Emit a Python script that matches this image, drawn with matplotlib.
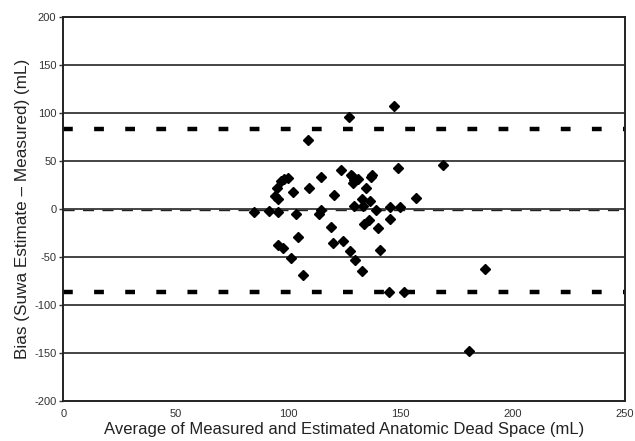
import numpy as np
import matplotlib
matplotlib.use("Agg")
import matplotlib.pyplot as plt

plt.rcParams['font.family'] = ['Liberation Sans', 'DejaVu Sans']
plt.rcParams['axes.unicode_minus'] = False

# Bland-Altman style data
avg_ml = [84.7, 91.7, 95.7, 103.5, 113.8, 114.8, 94.2, 95.7, 95.0, 96.8,
          98.3, 99.8, 102.4, 109.4, 114.8, 120.7, 123.7, 128.5, 129.3, 119.2,
          104.6, 95.4, 97.9, 101.2, 106.7, 120.1, 124.6, 127.4, 130.0,
          128.1, 129.3, 131.0, 128.9, 137.4, 136.8, 148.8, 168.8, 134.9, 133.0,
          136.6, 133.4, 139.3, 145.2, 150.0, 157.0, 134.0, 136.2, 139.9, 145.2,
          140.8, 133.0, 144.8, 151.7, 187.8, 180.4, 109.0, 127.0, 147.0]
bias_ml = [-3, -2, -3, -5, -5, -1, 13, 10, 22, 29,
           31, 32, 18, 22, 33, 14, 40, 34, 3, -19,
           -29, -38, -41, -51, -69, -36, -33, -44, -53,
           35, 30, 31, 27, 35, 33, 43, 46, 22, 10,
           8, 2.5, -1, 2, 2, 11, -16, -12, -20, -11,
           -43, -65, -87, -87, -63, -148, 72, 96, 107]

mean_bias = -1.5
upper_loa = 83.5
lower_loa = -87
grid_vals = [-150, -100, -50, 0, 50, 100, 150]

fig = plt.figure(figsize=(6.35, 4.41), dpi=100)
ax = fig.add_axes([0.0997, 0.091, 0.8845, 0.871])

for g in grid_vals:
    ax.axhline(g, color='#444444', lw=1.4, zorder=1)
ax.axhline(mean_bias, color='#222222', lw=1.0, ls=(0, (8, 6)), zorder=2)
ax.axhline(upper_loa, color='black', lw=3.2, ls=(0, (2.2, 4.8)), zorder=2)
ax.axhline(lower_loa, color='black', lw=3.2, ls=(0, (2.2, 4.8)), zorder=2)

ax.plot(avg_ml, bias_ml, ls='none', marker='D', ms=5.5, color='black', zorder=3)

ax.set_xlim(0, 250)
ax.set_ylim(-200, 200)
ax.set_xticks([0, 50, 100, 150, 200, 250])
ax.set_yticks([-200, -150, -100, -50, 0, 50, 100, 150, 200])
ax.tick_params(axis='both', labelsize=8, colors='#333333', length=3, width=1, pad=2)
ax.tick_params(axis='x', length=0, pad=6)
for s in ax.spines.values():
    s.set_linewidth(1.4)
    s.set_color('#222222')

ax.set_xlabel("Average of Measured and Estimated Anatomic Dead Space (mL)",
              fontsize=12, color='#222222', labelpad=2)
ax.set_ylabel("Bias (Suwa Estimate \u2013 Measured) (mL)",
              fontsize=12.3, color='#222222', labelpad=3)

fig.savefig("out.png", dpi=100)
